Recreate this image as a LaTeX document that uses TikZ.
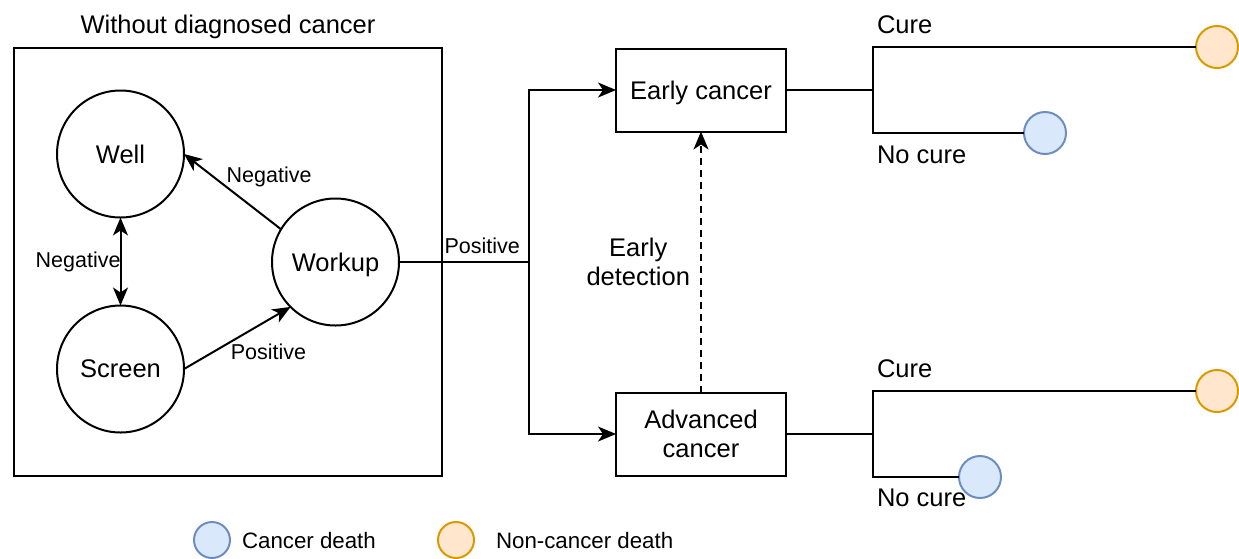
\documentclass[tikz,border=0pt]{standalone}
\usepackage{fontspec}
\setmainfont{Liberation Sans}
\usetikzlibrary{arrows.meta}
\definecolor{bluefill}{HTML}{DAE8FC}
\definecolor{bluedraw}{HTML}{6C8EBF}
\definecolor{orfill}{HTML}{FFE6CC}
\definecolor{ordraw}{HTML}{D79B00}
\begin{document}
\begin{tikzpicture}[x=1pt,y=-1pt, line width=2pt,
  every node/.style={inner sep=0pt, outer sep=0pt},
  big/.style={font=\fontsize{25.5}{29}\selectfont},
  small/.style={font=\fontsize{21.5}{25}\selectfont},
  legendtxt/.style={font=\fontsize{22.3}{27}\selectfont},
  state/.style={draw, circle, minimum size=127pt, big, text depth=0pt},
  stage/.style={draw, rectangle, minimum width=170pt, minimum height=83pt, big, align=center},
  arr/.style={-{Stealth[length=18pt,width=15pt,inset=5pt]}},
  dbl/.style={{Stealth[length=18pt,width=15pt,inset=5pt]}-{Stealth[length=18pt,width=15pt,inset=5pt]}},
  cdeath/.style={draw=bluedraw, fill=bluefill, circle, minimum size=42pt},
  odeath/.style={draw=ordraw, fill=orfill, circle, minimum size=42pt},
]
\useasboundingbox (0,0) rectangle (1239,558);

% outer box
\node[draw, minimum width=428pt, minimum height=428pt] (box) at (228,262) {};
\node[big, anchor=base] (title) at (228,33) {Without diagnosed cancer};

% states
\node[state] (well) at (120.5,154) {Well};
\node[state] (screen) at (120.5,369) {Screen};
\node[state] (workup) at (335.5,262) {Workup};

\draw[dbl] (well.south) -- node[midway, anchor=east, small]{Negative} (screen.north);
\draw[arr] (workup.149) -- node[pos=0.56, anchor=south west, small]{Negative} (well.0);
\draw[arr] (screen.0) -- node[pos=0.44, anchor=north west, yshift=-2pt, small]{Positive} (workup.225);

% stages
\node[stage, text depth=0pt] (early) at (701,90) {Early cancer};
\node[stage] (adv) at (701,434) {Advanced\\cancer};

\coordinate (split) at (529,262);
\draw (workup.east) -- node[pos=0.35, anchor=south west, yshift=8pt, small]{Positive} (split);
\draw[arr] (split) |- (early.west);
\draw[arr] (split) |- (adv.west);
\draw[arr, dash pattern=on 7pt off 5pt] (adv.north) -- node[midway, anchor=east, xshift=-11pt, big, align=center]{Early\\detection} (early.south);

% early branches
\coordinate (eb) at (873,90);
\coordinate (ebt) at (873,47);
\coordinate (ebb) at (873,133);
\node[odeath] (eo) at (1217,47) {};
\node[cdeath] (ec) at (1045,133) {};
\draw (early.east) -- (eb);
\draw (ec) -- (ebb) -- (ebt) -- (eo);
\node[big, anchor=west] (ecure) at (877,25) {Cure};
\node[big, anchor=west] (enocure) at (877,155) {No cure};

% advanced branches
\coordinate (ab) at (873,434);
\coordinate (abt) at (873,391);
\coordinate (abb) at (873,477);
\node[odeath] (ao) at (1217,391) {};
\node[cdeath] (ac) at (980,477) {};
\draw (adv.east) -- (ab);
\draw (ac) -- (abb) -- (abt) -- (ao);
\node[big, anchor=west] (acure) at (877,369) {Cure};
\node[big, anchor=west] (anocure) at (877,498) {No cure};

% legend
\node[cdeath, minimum size=36pt] (lc) at (212,540) {};
\node[legendtxt, anchor=west] (lct) at (242,541) {Cancer death};
\node[odeath, minimum size=36pt] (lo) at (456,540) {};
\node[legendtxt, anchor=west] (lot) at (496,541) {Non-cancer death};
\end{tikzpicture}
\end{document}
